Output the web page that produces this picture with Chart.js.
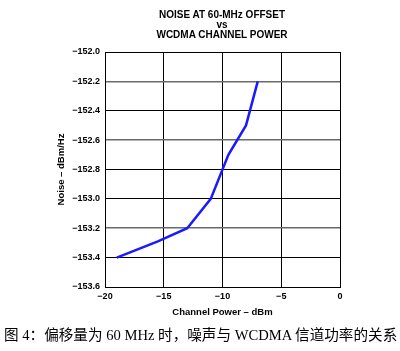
<!DOCTYPE html>
<html>
<head>
<meta charset="utf-8">
<script src="https://cdn.jsdelivr.net/npm/chart.js@4"></script>
<style>
  body { margin: 0; background: #fff; }
  #wrap { position: relative; width: 400px; height: 351px; }
  #title {
    position: absolute; left: 122px; width: 200px; top: 10px;
    text-align: center; font: bold 10px "Liberation Sans", Arial, sans-serif;
    line-height: 10px; color: #000;
  }
  #caption {
    position: absolute; left: 4px; top: 323px; white-space: nowrap;
    font: 14.6px "Liberation Serif", "Noto Sans CJK SC", serif; color: #000;
  }
</style>
</head>
<body>
<div id="wrap">
  <canvas id="myChart" width="400" height="351"></canvas>
  <div id="title">NOISE AT 60-MHz OFFSET<br>vs<br>WCDMA CHANNEL POWER</div>
  <div id="caption">图 4：偏移量为 60 MHz 时，噪声与 WCDMA 信道功率的关系</div>
</div>
<script>
// channel power (dBm) and noise (dBm/Hz)
var powerValues = [-19, -15.5, -13, -11, -9.5, -8, -7];
var noiseValues = [-153.4, -153.29, -153.2, -153.0, -152.7, -152.5, -152.2];

var xTicks = [-20, -15, -10, -5, 0];
var yTicks = [-153.6, -153.4, -153.2, -153.0, -152.8, -152.6, -152.4, -152.2, -152.0];

function minus(s) { return s.replace('-', '\u2212'); }

var points = powerValues.map(function (p, i) { return {x: p, y: noiseValues[i]}; });
var tickFont = {family: '"Liberation Sans", Arial, sans-serif', size: 9, weight: 'bold'};
var titleFont = {family: '"Liberation Sans", Arial, sans-serif', size: 9.5, weight: 'bold'};

function isGrey(c) {
  var v = c.tick ? c.tick.value.toFixed(1) : '';
  return v === '-152.2' || v === '-152.6' || v === '-153.2';
}

new Chart("myChart", {
  type: "line",
  data: {
    datasets: [{
      data: points,
      borderColor: "#1a1aff",
      borderWidth: 2.5,
      pointRadius: 0,
      tension: 0,
      fill: false
    }]
  },
  options: {
    responsive: false,
    animation: false,
    layout: {padding: {top: 52, right: 60, left: 56, bottom: 33}},
    plugins: {legend: {display: false}, tooltip: {enabled: false}},
    scales: {
      x: {
        type: "linear", min: -20, max: 0,
        afterBuildTicks: function (s) { s.ticks = xTicks.map(function (v) { return {value: v}; }); },
        afterFit: function (s) { s.height = 31; },
        grid: {color: "#000", lineWidth: 1, drawTicks: false},
        border: {color: "#000", width: 1},
        ticks: {color: "#000", font: tickFont, padding: 4,
          callback: function (v) { return minus(String(v)); }},
        title: {display: true, text: "Channel Power \u2013 dBm", color: "#000", font: titleFont, padding: 0}
      },
      y: {
        min: -153.6, max: -152.0,
        afterBuildTicks: function (s) { s.ticks = yTicks.map(function (v) { return {value: v}; }); },
        afterFit: function (s) { s.width = 49; },
        grid: {
          color: function (c) { return isGrey(c) ? '#6a6a6a' : '#000'; },
          lineWidth: function (c) { return isGrey(c) ? 1.6 : 1; },
          drawTicks: false
        },
        border: {color: "#000", width: 1},
        ticks: {color: "#000", font: tickFont, padding: 5,
          callback: function (v) { return minus(Number(v).toFixed(1)); }},
        title: {display: true, text: "Noise \u2013 dBm/Hz", color: "#000", font: titleFont, padding: 0}
      }
    }
  }
});
</script>
</body>
</html>
